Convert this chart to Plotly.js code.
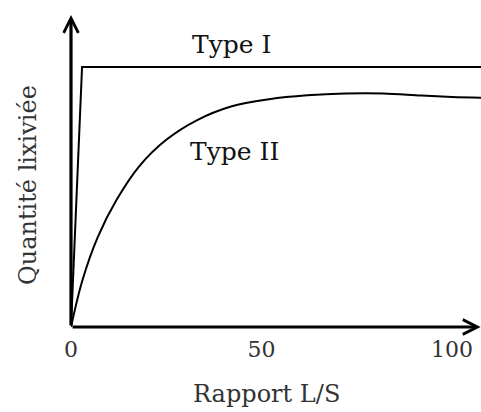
<!DOCTYPE html>
<html>
<head>
<meta charset="utf-8">
<script src="https://cdn.plot.ly/plotly-3.0.1.min.js"></script>
<style>
  html, body { margin: 0; padding: 0; background: #fff; }
  #chart { width: 481px; height: 412px; }
</style>
</head>
<body>
<div id="chart"></div>
<script>
// Leaching curves: amount leached versus liquid/solid ratio
const seriesNames = ['Type I', 'Type II'];

const typeIRatio = [0, 2.9, 108];
const typeIAmount = [0, 100, 100];

const typeIIRatio = [0, 3, 7, 12, 18, 25, 33, 42, 52, 62, 72, 82, 92, 100, 108];
const typeIIAmount = [0, 18, 34.5, 49, 62, 72, 79.5, 84.8, 87.6, 89.1, 89.8, 89.8, 89.0, 88.5, 88.2];

const xTickVals = [0, 50, 100];
const xTickText = ['0', '50', '100'];

const xTitle = 'Rapport L/S';
const yTitle = 'Quantité lixiviée';

const FONT = 'DejaVu Serif, Liberation Serif, serif';
const X_MAX = 107.6;
const Y_MAX = 120;

const traces = [
  {
    x: typeIRatio, y: typeIAmount, name: seriesNames[0],
    mode: 'lines', line: { color: '#000', width: 2 },
    cliponaxis: false, hoverinfo: 'skip'
  },
  {
    x: typeIIRatio, y: typeIIAmount, name: seriesNames[1],
    mode: 'lines', line: { color: '#000', width: 2, shape: 'spline', smoothing: 1 },
    cliponaxis: false, hoverinfo: 'skip'
  }
];

const layout = {
  width: 481, height: 412,
  margin: { l: 71, r: 0, t: 15, b: 85 },
  paper_bgcolor: '#fff', plot_bgcolor: '#fff',
  showlegend: false,
  font: { family: FONT, color: '#222', size: 24 },
  xaxis: {
    range: [0, X_MAX], showgrid: false, zeroline: false, showline: false,
    tickvals: xTickVals, ticktext: xTickText, ticks: '',
    ticklabelstandoff: 7,
    tickfont: { family: FONT, size: 22, color: '#333' }, fixedrange: true
  },
  yaxis: {
    range: [0, Y_MAX], showgrid: false, zeroline: false, showline: false,
    showticklabels: false, ticks: '', fixedrange: true
  },
  annotations: [
    // horizontal axis with arrowhead
    { x: X_MAX - 0.1, y: 0, ax: 0, ay: 0, xref: 'x', yref: 'y', axref: 'x', ayref: 'y',
      text: '', showarrow: true, arrowhead: 5, arrowsize: 0.9, arrowwidth: 3.2, arrowcolor: '#000', standoff: 0 },
    // vertical axis with arrowhead
    { x: 0, y: Y_MAX, ax: 0, ay: 0, xref: 'x', yref: 'y', axref: 'x', ayref: 'y',
      text: '', showarrow: true, arrowhead: 5, arrowsize: 0.9, arrowwidth: 3.2, arrowcolor: '#000', standoff: 0 },
    // curve labels
    { x: 42, y: 108.5, xref: 'x', yref: 'y', text: seriesNames[0], showarrow: false,
      xanchor: 'center', yanchor: 'middle', font: { family: FONT, size: 25, color: '#111' } },
    { x: 42.8, y: 67.5, xref: 'x', yref: 'y', text: seriesNames[1], showarrow: false,
      xanchor: 'center', yanchor: 'middle', font: { family: FONT, size: 25, color: '#111' } },
    // axis titles
    { xref: 'paper', yref: 'paper', text: xTitle, showarrow: false,
      xanchor: 'center', yanchor: 'middle', font: { family: FONT, size: 24, color: '#333' } },
    { xref: 'paper', yref: 'paper', text: yTitle, showarrow: false, textangle: -90,
      xanchor: 'center', yanchor: 'middle', font: { family: FONT, size: 24, color: '#333' } }
  ]
};

// axis titles are positioned in pixels; convert to paper fractions
const plotW = 481 - 71, plotH = 412 - 15 - 85;
layout.annotations[4].x = (266 - 71) / plotW;
layout.annotations[4].y = (412 - 85 - 394) / plotH;
layout.annotations[5].x = (28 - 71) / plotW;
layout.annotations[5].y = (412 - 85 - 185) / plotH;

Plotly.newPlot('chart', traces, layout, { displayModeBar: false, staticPlot: true });
</script>
</body>
</html>
